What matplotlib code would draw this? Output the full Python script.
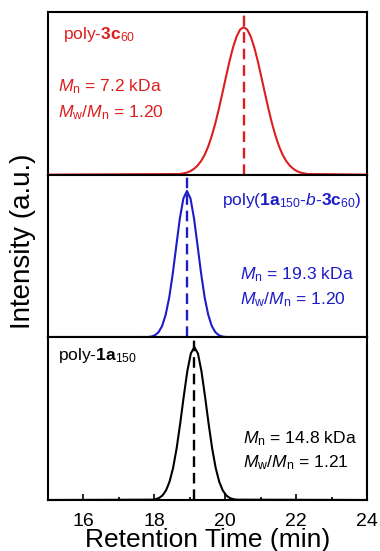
import matplotlib
matplotlib.use("Agg")
import matplotlib.pyplot as plt
from matplotlib.ticker import MultipleLocator

plt.rcParams['font.family'] = ['Liberation Sans', 'DejaVu Sans']
plt.rcParams['mathtext.fontset'] = 'custom'
plt.rcParams['mathtext.rm'] = 'Liberation Sans'
plt.rcParams['mathtext.it'] = 'Liberation Sans:italic'
plt.rcParams['mathtext.bf'] = 'Liberation Sans:bold'

# ---- data ----
red_time = [15.0, 18.72, 18.82, 18.92, 19.02, 19.12, 19.22, 19.32, 19.42, 19.52, 19.62,
            19.72, 19.82, 19.92, 20.02, 20.12, 20.22, 20.32, 20.42, 20.52, 20.62,
            20.72, 20.82, 20.92, 21.02, 21.12, 21.22, 21.32, 21.42, 21.52, 21.62,
            21.72, 21.82, 21.92, 22.02, 22.12, 22.22, 22.32, 24.0]
red_int = [0.0, 0.004, 0.008, 0.013, 0.022, 0.036, 0.056, 0.084, 0.122, 0.173, 0.238,
           0.315, 0.404, 0.501, 0.600, 0.697, 0.782, 0.849, 0.892, 0.907, 0.892,
           0.849, 0.782, 0.697, 0.600, 0.501, 0.404, 0.315, 0.238, 0.173, 0.122,
           0.084, 0.056, 0.036, 0.022, 0.013, 0.008, 0.004, 0.0]

blue_time = [15.0, 17.82, 17.92, 18.02, 18.12, 18.22, 18.32, 18.42, 18.52, 18.62, 18.72,
             18.82, 18.92, 19.02, 19.12, 19.22, 19.32, 19.42, 19.52, 19.62, 19.72,
             19.82, 19.92, 20.02, 24.0]
blue_int = [0.0, 0.002, 0.005, 0.013, 0.032, 0.070, 0.139, 0.245, 0.392, 0.563, 0.731,
            0.854, 0.900, 0.854, 0.731, 0.563, 0.392, 0.245, 0.139, 0.070, 0.032,
            0.013, 0.005, 0.002, 0.0]

black_time = [15.0, 17.93, 18.03, 18.13, 18.23, 18.33, 18.43, 18.53, 18.63, 18.73, 18.83,
              18.93, 19.03, 19.13, 19.23, 19.33, 19.43, 19.53, 19.63, 19.73, 19.83,
              19.93, 20.03, 20.13, 20.23, 20.33, 24.0]
black_int = [0.0, 0.002, 0.005, 0.012, 0.028, 0.059, 0.113, 0.198, 0.319, 0.471, 0.637,
             0.791, 0.901, 0.940, 0.901, 0.791, 0.637, 0.471, 0.319, 0.198, 0.113,
             0.059, 0.028, 0.012, 0.005, 0.002, 0.0]

peak_times = [20.52, 18.92, 19.13]
xticks = [16, 18, 20, 22, 24]

RED = '#dc1e1e'
BLUE = '#1c1cc8'
BLACK = '#000000'

fig, axes = plt.subplots(3, 1, figsize=(3.8, 5.51), dpi=100, sharex=True)
fig.subplots_adjust(left=48/380, right=367/380, top=1-12/551, bottom=1-500/551, hspace=0)

series = [(red_time, red_int, RED), (blue_time, blue_int, BLUE), (black_time, black_int, BLACK)]
for ax, (t, y, c), pk in zip(axes, series, peak_times):
    ax.plot(t, y, color=c, lw=1.5, zorder=5, clip_on=False)
    ax.axvline(pk, color=c, lw=1.7, ls=(0, (4.5, 2.5)), zorder=4)
    ax.set_xlim(15, 24)
    ax.set_ylim(0, 1)
    ax.set_yticks([])
    for s in ax.spines.values():
        s.set_linewidth(1.5)
    ax.tick_params(axis='x', which='both', length=0)

ax = axes[2]
ax.set_xticks(xticks)
ax.xaxis.set_minor_locator(MultipleLocator(1))
ax.tick_params(axis='x', which='major', direction='in', length=4, width=1.2, labelsize=14, pad=9)
ax.tick_params(axis='x', which='minor', direction='in', length=2, width=1.2)
ax.tick_params(axis='x', which='both', top=False)
ax.set_xlabel('Retention Time (min)', fontsize=19, labelpad=-1)

fig.text(23/380, 1-241/551, 'Intensity (a.u.)', rotation=90, fontsize=20,
         ha='center', va='center')

fs = 12.6
fl = 12.5
a0 = axes[0]
a0.text(15.42, 0.86, r'poly-$\mathbf{3c}_{\mathrm{60}}$', color=RED, fontsize=fl, va='center')
a0.text(15.28, 0.54, r'$M_\mathrm{n}$ = 7.2 kDa', color=RED, fontsize=fs, va='center')
a0.text(15.28, 0.38, r'$M_\mathrm{w}$/$M_\mathrm{n}$ = 1.20', color=RED, fontsize=fs, va='center')

a1 = axes[1]
a1.text(23.85, 0.84, r'poly($\mathbf{1a}_{\mathrm{150}}$-$b$-$\mathbf{3c}_{\mathrm{60}}$)',
        color=BLUE, fontsize=fl, va='center', ha='right')
a1.text(20.42, 0.384, r'$M_\mathrm{n}$ = 19.3 kDa', color=BLUE, fontsize=fs, va='center')
a1.text(20.42, 0.23, r'$M_\mathrm{w}$/$M_\mathrm{n}$ = 1.20', color=BLUE, fontsize=fs, va='center')

a2 = axes[2]
a2.text(15.28, 0.89, r'poly-$\mathbf{1a}_{\mathrm{150}}$', color=BLACK, fontsize=fl, va='center')
a2.text(20.5, 0.38, r'$M_\mathrm{n}$ = 14.8 kDa', color=BLACK, fontsize=fs, va='center')
a2.text(20.5, 0.23, r'$M_\mathrm{w}$/$M_\mathrm{n}$ = 1.21', color=BLACK, fontsize=fs, va='center')

fig.savefig('out.png', dpi=100)
